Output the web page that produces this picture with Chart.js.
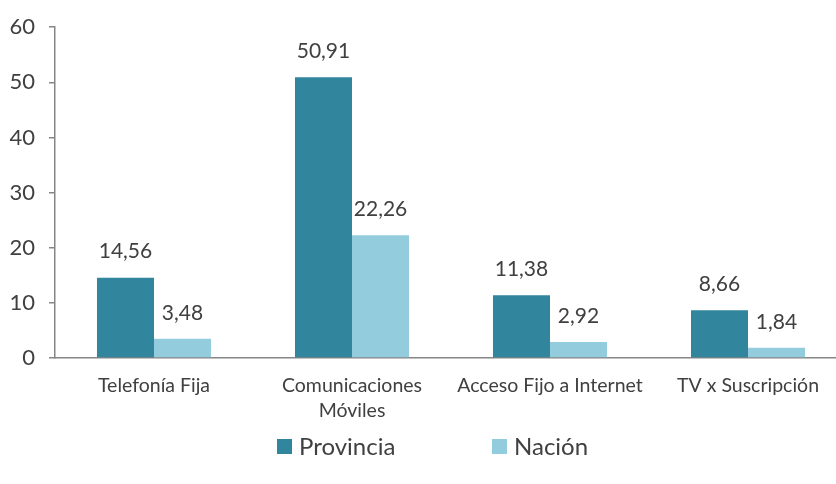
<!DOCTYPE html>
<html>
<head>
<meta charset="utf-8">
<script src="https://cdn.jsdelivr.net/npm/chart.js@4"></script>
<style>
  html, body { margin: 0; padding: 0; background: #fff; }
  #wrap { width: 836px; height: 484px; overflow: hidden; }
</style>
</head>
<body>
<div id="wrap"><canvas id="chart" width="849" height="484"></canvas></div>
<script>
const categories = ['Telefonía Fija', ['Comunicaciones', 'Móviles'], 'Acceso Fijo a Internet', 'TV x Suscripción'];
const provincia = [14.56, 50.91, 11.38, 8.66];
const nacion = [3.48, 22.26, 2.92, 1.84];
const yTicks = [0, 10, 20, 30, 40, 50, 60];

const FONT = "Lato, 'DejaVu Sans', sans-serif";
const TEXT = '#404040';

// value labels above every bar
const valueLabels = {
    id: 'valueLabels',
    afterDatasetsDraw(chart) {
        const ctx = chart.ctx;
        ctx.save();
        ctx.font = '21px ' + FONT;
        ctx.fillStyle = TEXT;
        ctx.textAlign = 'center';
        ctx.textBaseline = 'middle';
        chart.data.datasets.forEach((ds, i) => {
            chart.getDatasetMeta(i).data.forEach((bar, j) => {
                ctx.fillText(ds.data[j].toFixed(2).replace('.', ','), bar.x, bar.y - 26);
            });
        });
        ctx.restore();
    }
};

// legend drawn at the bottom, spaced like the original
const bottomLegend = {
    id: 'bottomLegend',
    afterDraw(chart) {
        const ctx = chart.ctx;
        const starts = [277, 492];
        ctx.save();
        ctx.font = '24px ' + FONT;
        ctx.textBaseline = 'middle';
        chart.data.datasets.forEach((ds, i) => {
            ctx.fillStyle = ds.backgroundColor;
            ctx.fillRect(starts[i], 439, 15, 15);
            ctx.fillStyle = TEXT;
            ctx.fillText(ds.label, starts[i] + 22, 447);
        });
        ctx.restore();
    }
};

new Chart(document.getElementById('chart').getContext('2d'), {
    type: 'bar',
    data: {
        labels: categories,
        datasets: [
            { label: 'Provincia', data: provincia, backgroundColor: '#31859C' },
            { label: 'Nación', data: nacion, backgroundColor: '#93CDDD' }
        ]
    },
    options: {
        responsive: false,
        animation: false,
        events: [],
        layout: { padding: { top: 24, right: 2, left: 0, bottom: 0 } },
        datasets: { bar: { barPercentage: 1, categoryPercentage: 0.576 } },
        plugins: { legend: { display: false }, tooltip: { enabled: false } },
        scales: {
            x: {
                grid: { display: false, drawTicks: false },
                border: { display: true, color: '#868686', width: 1.5 },
                ticks: { color: TEXT, padding: 15, maxRotation: 0, autoSkip: false,
                         font: { family: FONT, size: 19.5, lineHeight: 1.3 } },
                afterFit(scale) { scale.height = 126; }
            },
            y: {
                min: 0, max: 60,
                afterBuildTicks(scale) { scale.ticks = yTicks.map(v => ({ value: v })); },
                grid: { drawOnChartArea: false, tickLength: 6, color: '#868686', lineWidth: 1.5 },
                border: { display: true, color: '#868686', width: 1.5 },
                ticks: { color: TEXT, padding: 14, font: { family: FONT, size: 22 } },
                afterFit(scale) { scale.width = 55; }
            }
        }
    },
    plugins: [valueLabels, bottomLegend]
});
</script>
</body>
</html>
